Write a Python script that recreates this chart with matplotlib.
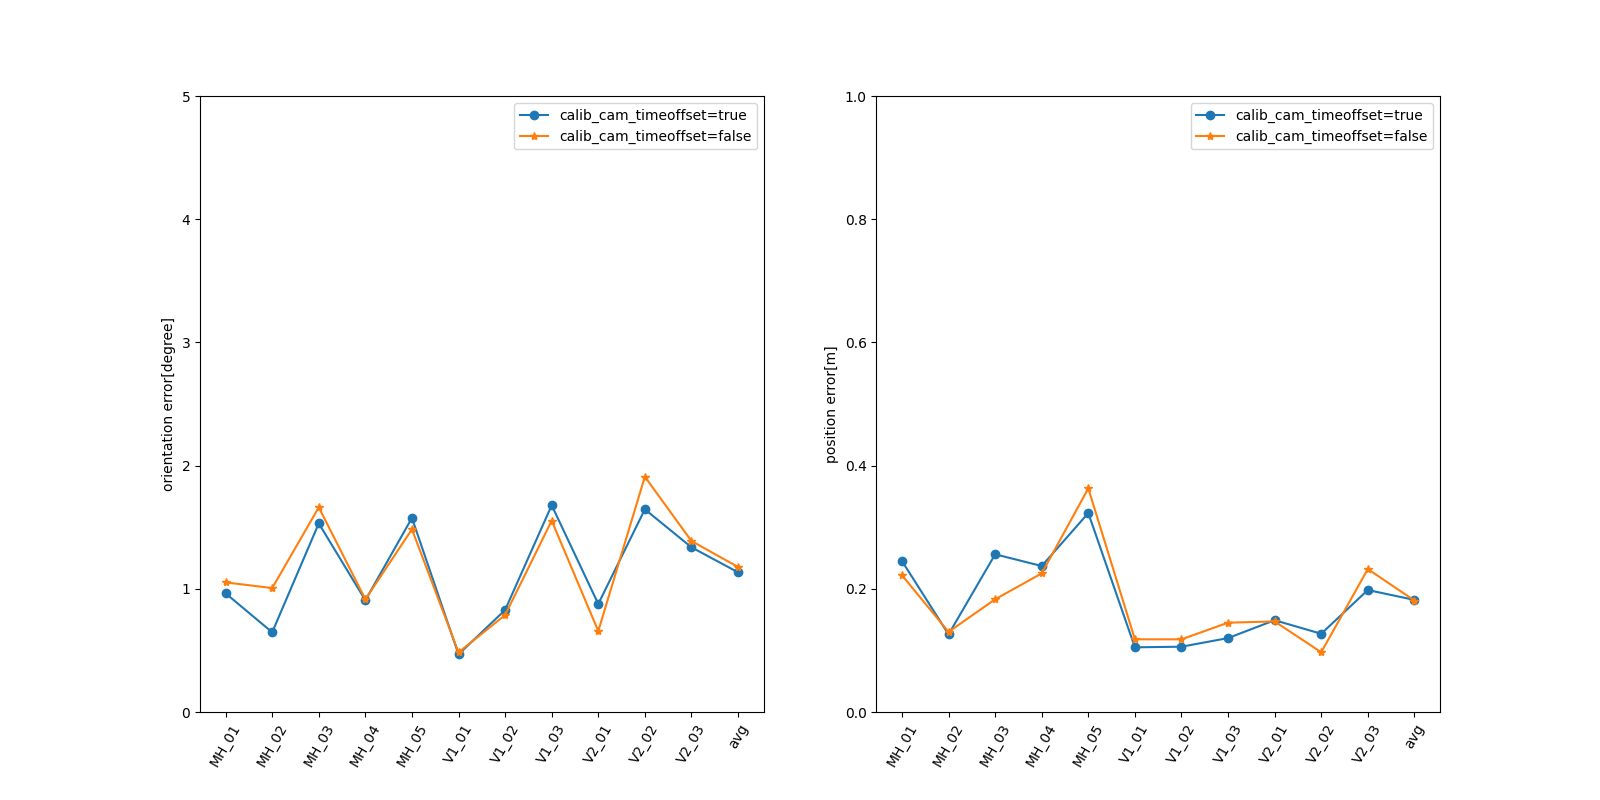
import matplotlib
matplotlib.use('Agg')
import matplotlib.pyplot as plt
import numpy as np

# Sequence names
sequences = ['MH_01', 'MH_02', 'MH_03', 'MH_04', 'MH_05', 'V1_01', 'V1_02',
             'V1_03', 'V2_01', 'V2_02', 'V2_03', 'avg']

# Orientation error [degree]
ori_true = [0.963, 0.647, 1.531, 0.907, 1.575, 0.468, 0.828, 1.678, 0.877, 1.645, 1.337, 1.134]
ori_false = [1.052, 1.006, 1.661, 0.915, 1.483, 0.484, 0.787, 1.553, 0.657, 1.910, 1.388, 1.177]

# Position error [m]
pos_true = [0.245, 0.126, 0.256, 0.237, 0.323, 0.105, 0.106, 0.120, 0.149, 0.127, 0.198, 0.182]
pos_false = [0.222, 0.130, 0.183, 0.225, 0.363, 0.118, 0.118, 0.145, 0.147, 0.097, 0.232, 0.181]

fig, (ax1, ax2) = plt.subplots(1, 2, figsize=(16, 8))
x = np.arange(len(sequences))

ax1.plot(x, ori_true, marker='o', label='calib_cam_timeoffset=true')
ax1.plot(x, ori_false, marker='*', label='calib_cam_timeoffset=false')
ax1.set_ylim(0, 5)
ax1.set_ylabel('orientation error[degree]')
ax1.set_xticks(x)
ax1.set_xticklabels(sequences, rotation=60)
ax1.legend(loc='upper right')

ax2.plot(x, pos_true, marker='o', label='calib_cam_timeoffset=true')
ax2.plot(x, pos_false, marker='*', label='calib_cam_timeoffset=false')
ax2.set_ylim(0, 1)
ax2.set_ylabel('position error[m]')
ax2.set_xticks(x)
ax2.set_xticklabels(sequences, rotation=60)
ax2.legend(loc='upper right')

plt.savefig('out.png', dpi=100)
plt.close(fig)
